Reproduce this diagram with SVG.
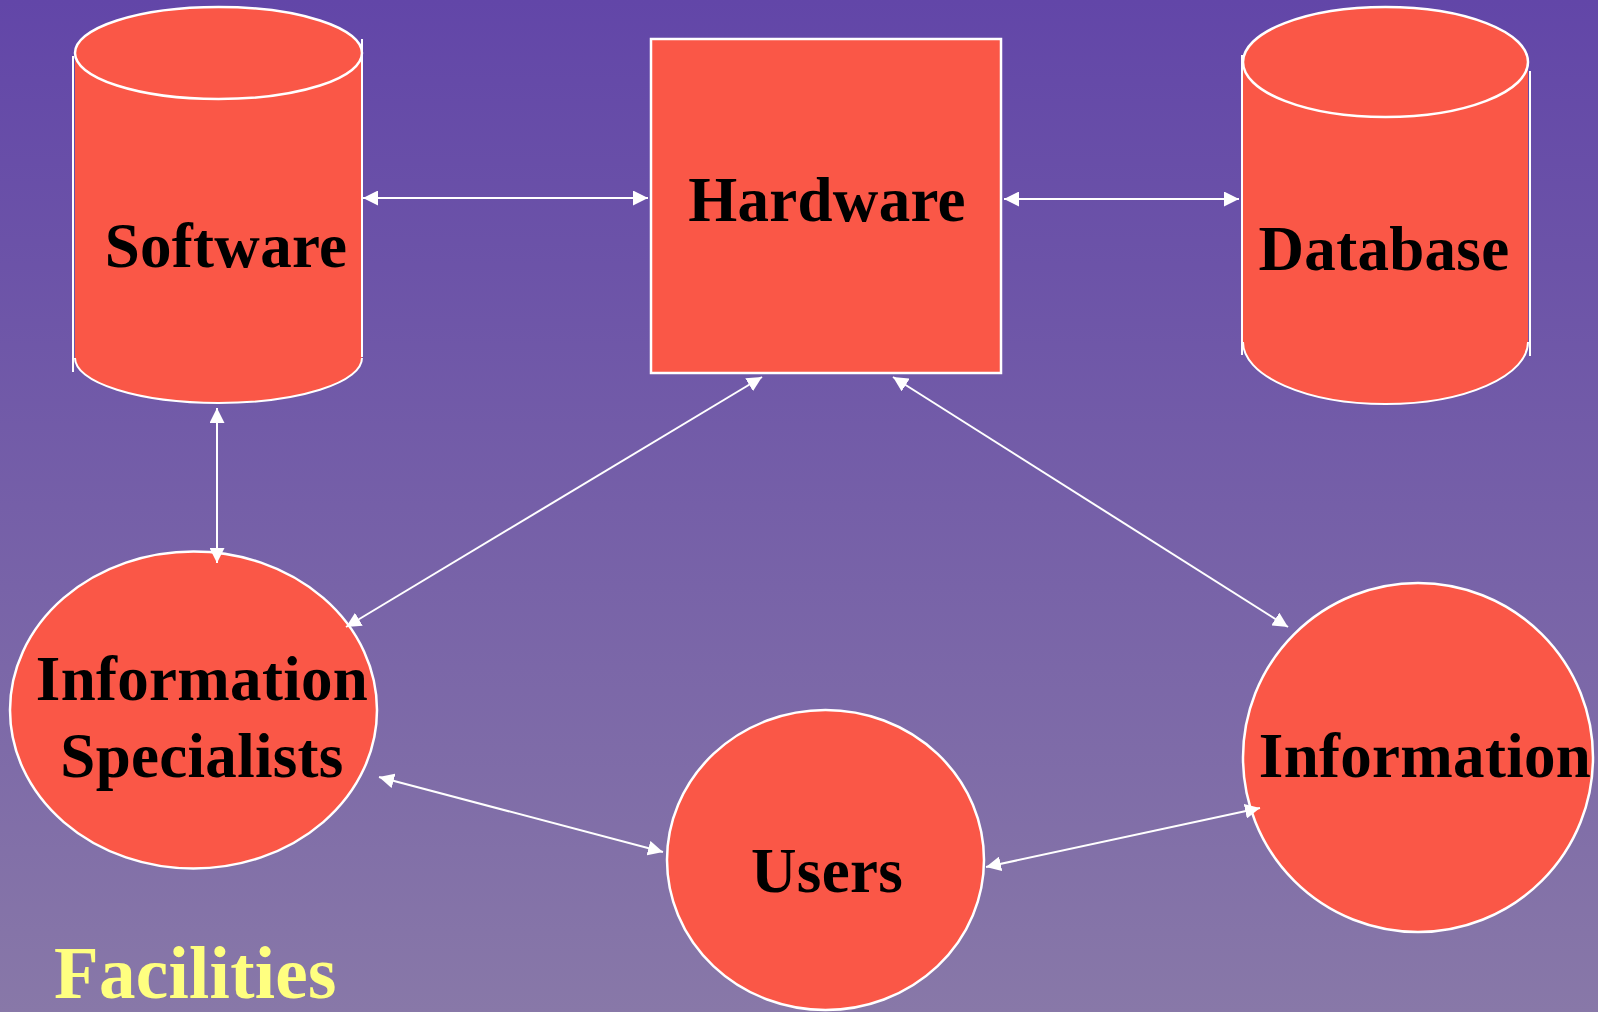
<svg xmlns="http://www.w3.org/2000/svg" width="1598" height="1012" viewBox="0 0 1598 1012">
  <defs>
    <linearGradient id="bg" x1="0" y1="0" x2="0" y2="1">
      <stop offset="0" stop-color="#6246A8"/>
      <stop offset="1" stop-color="#8878A8"/>
    </linearGradient>
    <marker id="ah" viewBox="0 0 15 15" refX="15" refY="7.5" markerWidth="15" markerHeight="15" markerUnits="userSpaceOnUse" orient="auto-start-reverse">
      <path d="M0,0 L15,7.5 L0,15 z" fill="#FFFFFF"/>
    </marker>
  </defs>
  <style>
    .shape { fill: #FA5747; stroke: #FFFFFF; stroke-width: 2.5; }
    .fillonly { fill: #FA5747; stroke: none; }
    .edge { fill: none; stroke: #FFFFFF; stroke-width: 2; }
    .side { fill: none; stroke: #FFFFFF; stroke-width: 2; }
    .conn { stroke: #FFFFFF; stroke-width: 2; fill: none; marker-start: url(#ah); marker-end: url(#ah); }
    .lbl { font-family: "Liberation Serif", "Times New Roman", serif; font-weight: bold; font-size: 63px; fill: #000000; text-anchor: middle; letter-spacing: 0.3px; }
    .fac { font-family: "Liberation Serif", "Times New Roman", serif; font-weight: bold; font-size: 73px; fill: #FFFF80; letter-spacing: 0.3px; }
  </style>
  <rect x="0" y="0" width="1598" height="1012" fill="url(#bg)"/>

  <g id="software">
    <path class="fillonly" d="M75,53 L362,53 L362,358 A143.5,45 0 0 1 75,358 Z"/>
    <path class="edge" d="M75,358 A143.5,45 0 0 0 362,358"/>
    <line class="side" x1="73" y1="56" x2="73" y2="372"/>
    <line class="side" x1="362" y1="39" x2="362" y2="357"/>
    <ellipse class="shape" cx="218.5" cy="53" rx="143.5" ry="46"/>
    <text class="lbl" x="226" y="267">Software</text>
  </g>

  <g id="hardware">
    <rect class="shape" x="651" y="39" width="350" height="334" stroke-width="2"/>
    <text class="lbl" x="827" y="221">Hardware</text>
  </g>

  <g id="database">
    <path class="fillonly" d="M1243,62 L1528,62 L1528,342 A142.5,62 0 0 1 1243,342 Z"/>
    <path class="edge" d="M1243,342 A142.5,62 0 0 0 1528,342"/>
    <line class="side" x1="1242" y1="55" x2="1242" y2="355"/>
    <line class="side" x1="1530" y1="71" x2="1530" y2="356"/>
    <ellipse class="shape" cx="1385.5" cy="62" rx="142.5" ry="55"/>
    <text class="lbl" x="1384" y="270">Database</text>
  </g>

  <g id="information-specialists">
    <ellipse class="shape" cx="193.5" cy="710" rx="183.5" ry="158.5"/>
    <text class="lbl" x="202" y="700">Information</text>
    <text class="lbl" x="202" y="777">Specialists</text>
  </g>

  <g id="users">
    <ellipse class="shape" cx="825.5" cy="860" rx="158.5" ry="150"/>
    <text class="lbl" x="827" y="892">Users</text>
  </g>

  <g id="information">
    <ellipse class="shape" cx="1418" cy="757.5" rx="175" ry="174.5"/>
    <text class="lbl" x="1425" y="777">Information</text>
  </g>

  <text class="fac" x="54" y="998">Facilities</text>

  <g id="connectors">
    <line class="conn" x1="363" y1="198" x2="648" y2="198"/>
    <line class="conn" x1="1004" y1="199" x2="1239" y2="199"/>
    <line class="conn" x1="217" y1="408" x2="217" y2="563"/>
    <line class="conn" x1="762" y1="377" x2="346" y2="627"/>
    <line class="conn" x1="893" y1="377" x2="1288" y2="627"/>
    <line class="conn" x1="379" y1="777" x2="663" y2="852"/>
    <line class="conn" x1="986" y1="867" x2="1260" y2="808"/>
  </g>
</svg>
